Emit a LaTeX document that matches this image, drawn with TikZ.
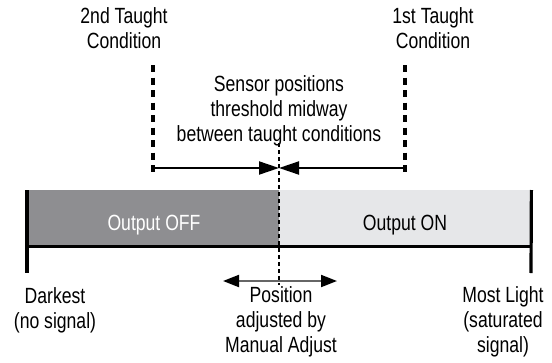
\documentclass[tikz,border=0pt]{standalone}
\usepackage{fontspec}
\newfontfamily\narrowfont[FakeStretch=0.8]{Liberation Sans}
\usetikzlibrary{arrows.meta}

\definecolor{offgray}{RGB}{142,142,145}
\definecolor{ongray}{RGB}{230,231,233}

\tikzstyle{lbl}=[align=center, inner sep=0pt, font=\narrowfont\fontsize{22}{25}\selectfont]
\tikzstyle{barpart}=[rectangle, anchor=north west, inner sep=0pt, minimum height=56pt]
\tikzstyle{taught}=[line width=3.5pt, dash pattern=on 7pt off 5.5pt]
\tikzstyle{midline}=[line width=1.8pt, dash pattern=on 4pt off 3pt]
\tikzstyle{edgeline}=[line width=3.2pt]
\tikzstyle{halfarr}=[line width=2pt, -{Triangle[length=20pt,width=13pt]}]
\tikzstyle{adjarr}=[line width=2pt, draw=black!60, {Triangle[length=16pt,width=12pt,color=black]}-{Triangle[length=16pt,width=12pt,color=black]}]

\begin{document}
\begin{tikzpicture}[x=1pt,y=-1pt]
        \useasboundingbox (0,0) rectangle (552,362);
        % bar
        \draw (27,190) node[barpart,fill=offgray,minimum width=252pt](offbar){};
        \draw (279,190) node[barpart,fill=ongray,minimum width=252pt](onbar){};
        \draw (154,225) node[lbl,text=white](offtxt){Output OFF};
        \draw (405,225) node[lbl](ontxt){Output ON};
        %
        \coordinate (darkend) at (27,273);
        \coordinate (lightend) at (531,273);
        \coordinate (t2top) at (153,65);
        \coordinate (t2bot) at (153,172);
        \coordinate (t1top) at (405,65);
        \coordinate (t1bot) at (405,172);
        \coordinate (midtop) at (279,143);
        \coordinate (midbot) at (279,285);
        \coordinate (t2arr) at (153,168);
        \coordinate (t1arr) at (405,168);
        \coordinate (midarr) at (279,168);
        \coordinate (adjl) at (223,281);
        \coordinate (adjr) at (337,281);
        %
        \draw (124,28) node[lbl](t2txt){2nd Taught\\Condition};
        \draw (433,28) node[lbl](t1txt){1st Taught\\Condition};
        \draw (279,111) node[lbl](senstxt){Sensor positions\\threshold midway\\between taught conditions};
        \draw (55,310) node[lbl](darktxt){Darkest\\(no signal)};
        \draw (281,322) node[lbl](adjtxt){Position\\adjusted by\\Manual Adjust};
        \draw (503,322) node[lbl](lighttxt){Most Light\\(saturated\\signal)};
        %
        \draw[edgeline] (offbar.south west) -- (onbar.south east);
        \draw[edgeline] (offbar.north west) -- (darkend);
        \draw[edgeline] (onbar.north east) -- (lightend);
        \draw[taught] (t2top) -- (t2bot);
        \draw[taught] (t1top) -- (t1bot);
        \draw[midline] (midtop) -- (midbot);
        \draw[halfarr] (t2arr) -- (midarr);
        \draw[halfarr] (t1arr) -- (midarr);
        \draw[adjarr] (adjl) -- (adjr);
        %;
\end{tikzpicture}
\end{document}
